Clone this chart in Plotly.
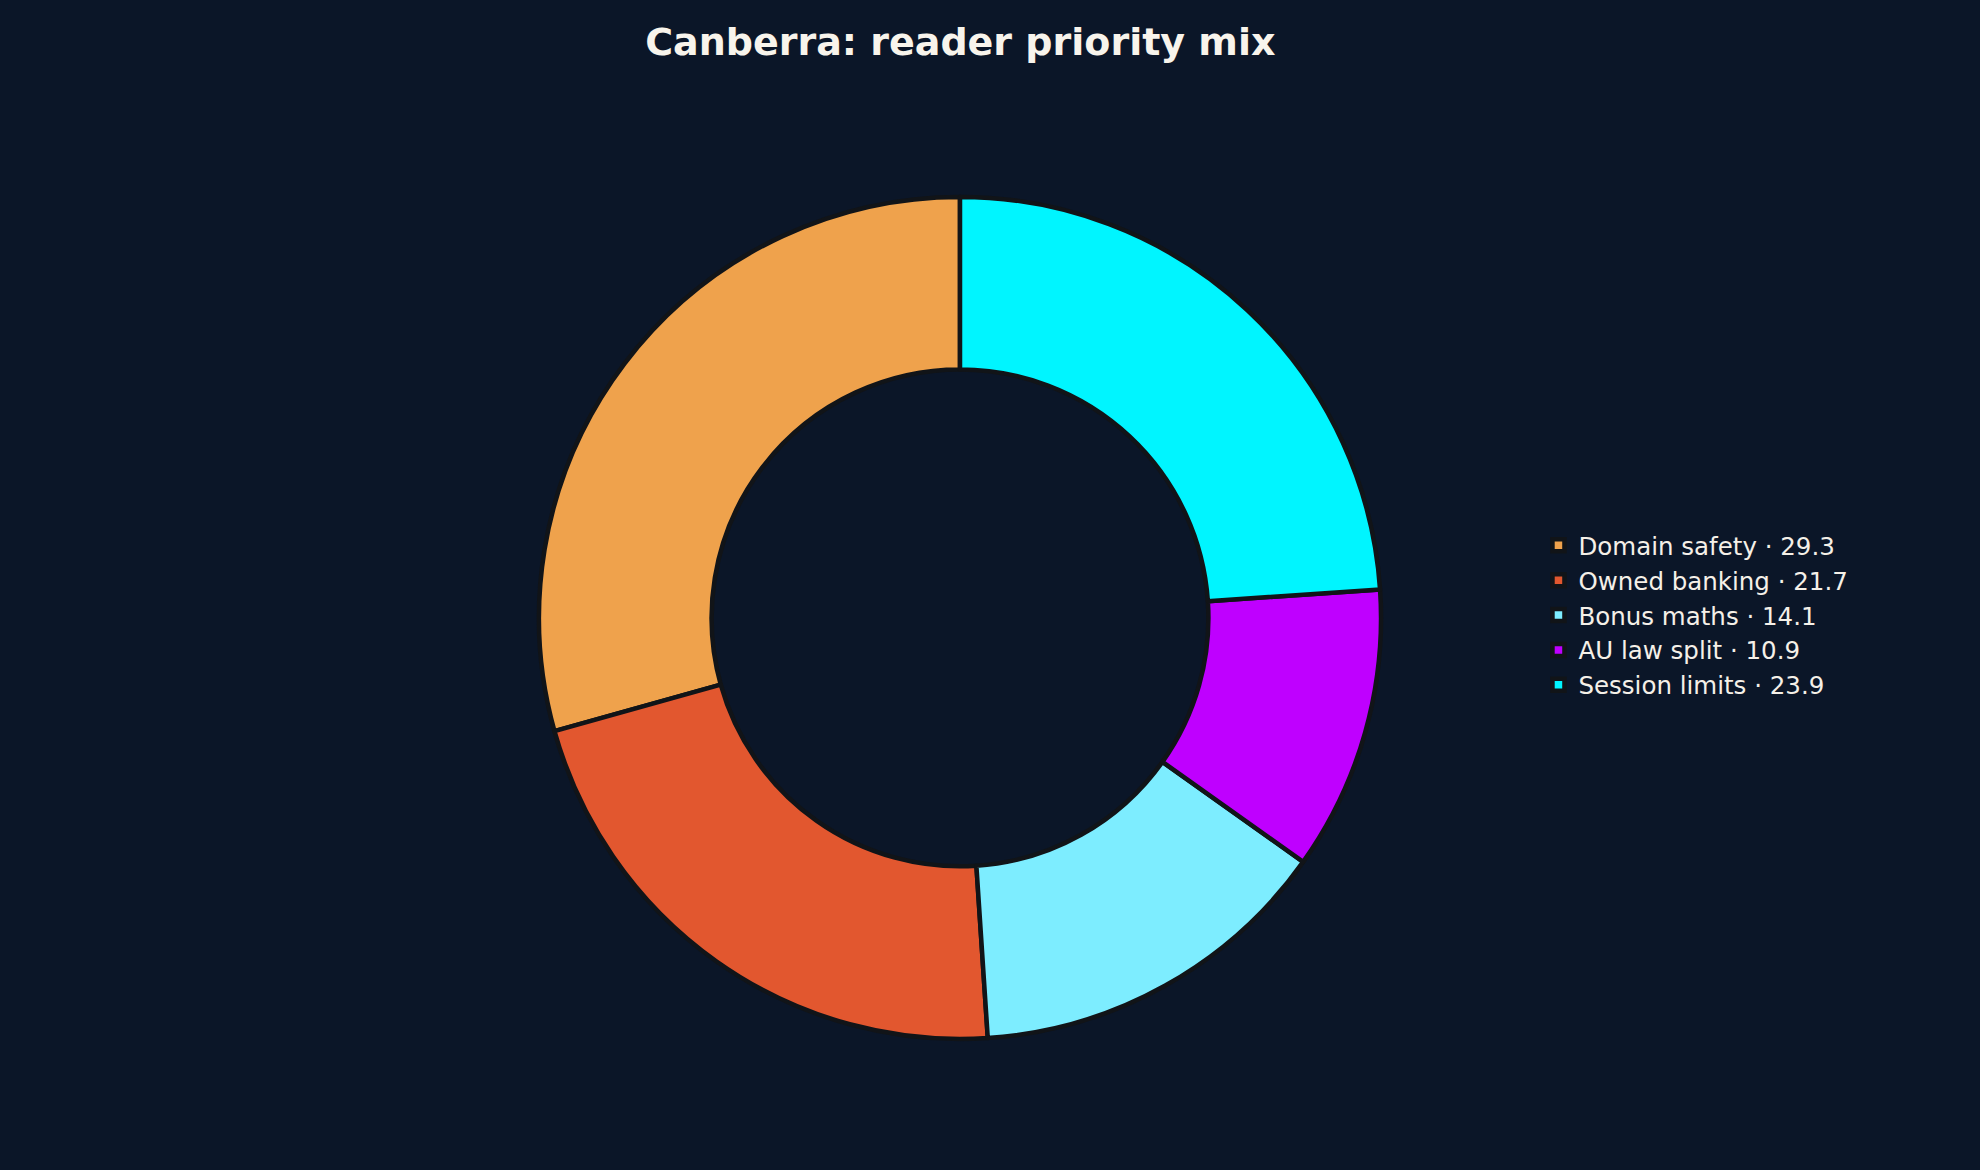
import plotly.graph_objects as go

# data
categories = ["Domain safety", "Owned banking", "Bonus maths", "AU law split", "Session limits"]
values = [29.3, 21.7, 14.1, 10.9, 23.9]
colors = ["#EFA24C", "#E2572F", "#7DEDFF", "#BF00FF", "#00F5FF"]

bg = "#0B1628"
labels = [f"{c} · {v}" for c, v in zip(categories, values)]

# first slice should start at 12 o'clock and run counter-clockwise
start_rot = -360 * values[0] / sum(values)

fig = go.Figure(go.Pie(
    labels=labels,
    values=values,
    hole=0.59,
    sort=False,
    direction="counterclockwise",
    rotation=start_rot,
    textinfo="none",
    marker=dict(colors=colors, line=dict(color="#111418", width=4.5)),
    domain=dict(x=[0.2722, 0.6975], y=[0.1120, 0.8317]),
))

fig.update_layout(
    width=1980, height=1170,
    paper_bgcolor=bg, plot_bgcolor=bg,
    margin=dict(l=0, r=0, t=0, b=0),
    font=dict(family="DejaVu Sans", color="#F5F0E8"),
    title=dict(text="<b>Canberra: reader priority mix</b>", x=0.485, xanchor="center",
               y=0.964, yanchor="middle", font=dict(size=38, color="#F8F4EC")),
    legend=dict(x=0.777, xanchor="left", y=0.474, yanchor="middle",
                font=dict(size=24.5, color="#F5F0E8"), bgcolor="rgba(0,0,0,0)"),
)

# drop the page margin so the dark paper fills the window
fig.write_html("out.html", config={"displayModeBar": False},
               post_script="document.body.style.margin='0';document.body.style.background='#0B1628';")
